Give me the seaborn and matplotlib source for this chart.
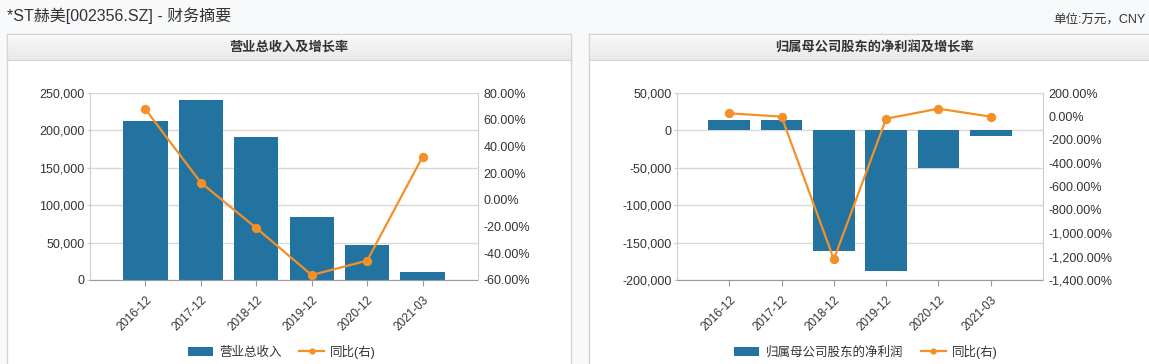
import matplotlib
matplotlib.use('Agg')
import numpy as np
import pandas as pd
import seaborn as sns
import matplotlib.pyplot as plt
from matplotlib.patches import Rectangle, Patch
from matplotlib.lines import Line2D
from matplotlib.ticker import FuncFormatter
from matplotlib.colors import LinearSegmentedColormap

plt.rcParams['font.family'] = ['Liberation Sans', 'Noto Sans CJK SC']
plt.rcParams['axes.unicode_minus'] = False

# data (万元 / %)
periods = ['2016-12', '2017-12', '2018-12', '2019-12', '2020-12', '2021-03']
revenue = [213000, 241000, 191500, 84500, 47000, 10500]
revenue_yoy = [67.8, 12.9, -21.1, -56.3, -45.5, 32.3]
net_profit = [14300, 14300, -160800, -187600, -49900, -8000]
profit_yoy = [26.5, -2.6, -1223.0, -19.7, 66.0, -2.6]

BAR = '#22739f'
LINE = '#f39028'
TXT = '#333333'
W, H = 1149, 364


def px(x0, y0, w, h):
    return [x0 / W, 1 - (y0 + h) / H, w / W, h / H]


fig = plt.figure(figsize=(W / 100, H / 100), dpi=100, facecolor='#f8f9fb')

fig.text(7 / W, 1 - 16 / H, '*ST赫美[002356.SZ] - 财务摘要', fontsize=11.5,
         color=TXT, va='center', ha='left')
fig.text(1146 / W, 1 - 20 / H, '单位:万元，CNY', fontsize=9, color=TXT,
         va='center', ha='right')

grad = LinearSegmentedColormap.from_list('hdr', ['#f9f9f9', '#e9e9e9'])


def panel(x0, x1, title):
    fig.add_artist(Rectangle((x0 / W, -0.02), (x1 - x0) / W, (H - 34) / H + 0.02,
                             transform=fig.transFigure, facecolor='white',
                             edgecolor='#d4d4d4', lw=1, zorder=-1))
    hax = fig.add_axes(px(x0, 34, x1 - x0, 26))
    hax.imshow(np.linspace(0, 1, 30).reshape(-1, 1), cmap=grad, aspect='auto',
               extent=[0, 1, 0, 1])
    hax.set_xticks([])
    hax.set_yticks([])
    for s in hax.spines.values():
        s.set_color('#d4d4d4')
    fig.text((x0 + x1) / 2 / W, 1 - 47 / H, title, ha='center', va='center',
             fontsize=9.5, fontweight='bold', color=TXT)


def chart(rect, vals, yoy, name, yticks, y2ticks, legend_x):
    df = pd.DataFrame({'period': periods, 'value': vals, 'yoy': yoy})
    ax = fig.add_axes(rect)
    ax.set_facecolor('none')
    sns.barplot(data=df, x='period', y='value', color=BAR, saturation=1,
                width=0.8, linewidth=0, ax=ax)
    ax2 = ax.twinx()
    sns.pointplot(data=df, x='period', y='yoy', color=LINE, ax=ax2,
                  markersize=5.5, linewidth=1.6)
    ax.set_xlim(-1, 6)
    ax.set_ylim(yticks[0], yticks[-1])
    ax.set_yticks(yticks)
    ax2.set_ylim(y2ticks[0], y2ticks[-1])
    ax2.set_yticks(y2ticks)
    ax.yaxis.set_major_formatter(FuncFormatter(lambda v, p: f'{v:,.0f}'))
    ax2.yaxis.set_major_formatter(FuncFormatter(lambda v, p: f'{v:,.2f}%'))
    ax.set_axisbelow(True)
    ax.yaxis.grid(True, color='#d9d9d9', lw=1)
    for a in (ax, ax2):
        a.set_xlabel('')
        a.set_ylabel('')
        a.spines['top'].set_visible(False)
    ax.spines['right'].set_visible(False)
    ax.spines['left'].set_color('#cccccc')
    ax.spines['bottom'].set_color('#999999')
    ax2.spines['left'].set_visible(False)
    ax2.spines['bottom'].set_visible(False)
    ax2.spines['right'].set_color('#cccccc')
    ax.tick_params(axis='y', length=2, color='#cccccc', pad=2, labelsize=9,
                   labelcolor=TXT)
    ax2.tick_params(axis='y', length=0, pad=4, labelsize=9, labelcolor=TXT)
    ax.tick_params(axis='x', length=4, color='#999999', pad=6, labelsize=8.5,
                   labelcolor=TXT)
    for lab in ax.get_xticklabels():
        lab.set_rotation(45)
        lab.set_ha('right')
        lab.set_rotation_mode('anchor')
    handles = [Patch(facecolor=BAR), Line2D([], [], color=LINE, lw=1.6,
                                          marker='o', markersize=3.5)]
    fig.legend(handles, [name, '同比(右)'], loc='center', ncol=2, frameon=False,
               bbox_to_anchor=(legend_x / W, 1 - 352 / H), fontsize=9,
               handlelength=2.0, handleheight=0.8, columnspacing=1.4,
               handletextpad=0.5, labelcolor=TXT)


panel(7, 571, '营业总收入及增长率')
panel(588.5, 1160, '归属母公司股东的净利润及增长率')

chart(px(90, 93, 388, 187), revenue, revenue_yoy, '营业总收入',
      np.arange(0, 250001, 50000), np.arange(-60, 81, 20), 282)
chart(px(677, 93, 366, 187), net_profit, profit_yoy, '归属母公司股东的净利润',
      np.arange(-200000, 50001, 50000), np.arange(-1400, 201, 200), 866)

fig.savefig('out.png', dpi=100, facecolor=fig.get_facecolor())
